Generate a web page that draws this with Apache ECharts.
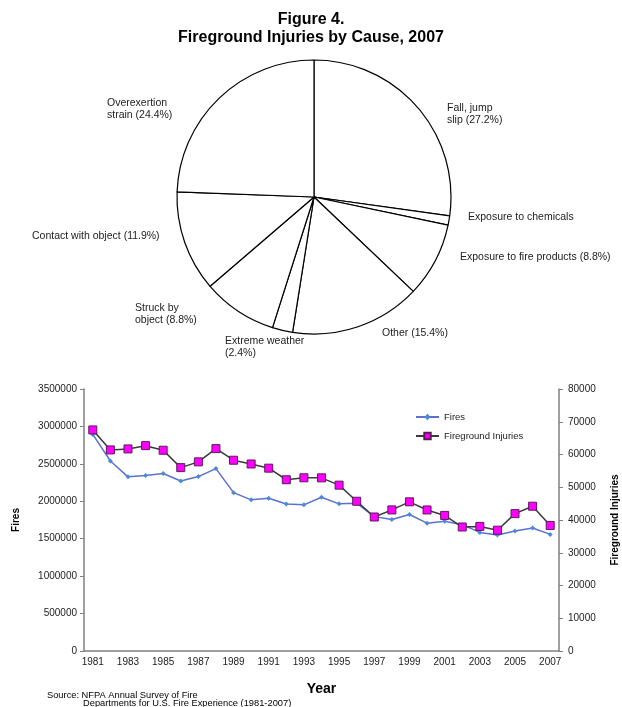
<!DOCTYPE html>
<html>
<head>
<meta charset="utf-8">
<title>Figure 4</title>
<script src="https://cdn.jsdelivr.net/npm/echarts@6/dist/echarts.min.js"></script>
<style>
  html, body { margin: 0; padding: 0; background: #fff; }
  #main { width: 622px; height: 707px; }
</style>
</head>
<body>
<div id="main"></div>
<script>
// pie: injuries by cause, clockwise from 12 o'clock
var causes = ['Fall, jump, slip', 'Exposure to chemicals', 'Exposure to fire products', 'Other',
  'Extreme weather', 'Struck by object', 'Contact with object', 'Overexertion, strain'];
var causeShare = [27.2, 1.1, 8.8, 15.4, 2.4, 8.8, 11.9, 24.4];
var causeLabels = ['Fall, jump\nslip (27.2%)', 'Exposure to chemicals', 'Exposure to fire products (8.8%)',
  'Other (15.4%)', 'Extreme weather\n(2.4%)', 'Struck by\nobject (8.8%)', 'Contact with object (11.9%)',
  'Overexertion\nstrain (24.4%)'];

// line chart: fires and fireground injuries by year
var years = ['1981', '1982', '1983', '1984', '1985', '1986', '1987', '1988', '1989', '1990',
  '1991', '1992', '1993', '1994', '1995', '1996', '1997', '1998', '1999', '2000',
  '2001', '2002', '2003', '2004', '2005', '2006', '2007'];
var fires = [2893500, 2538000, 2326500, 2343000, 2371000, 2271500, 2330000, 2436500, 2115000, 2019000,
  2041500, 1964500, 1952500, 2054500, 1965500, 1975000, 1795000, 1755500, 1823000, 1708000,
  1734500, 1687500, 1584500, 1550500, 1602000, 1642500, 1557500];
var injuries = [67500, 61400, 61700, 62700, 61300, 55990, 57755, 61790, 58250, 57100,
  55830, 52290, 52885, 52875, 50640, 45725, 40920, 43080, 45550, 43065,
  41395, 37860, 38045, 36880, 41950, 44210, 38340];

var font = 'Liberation Sans, Arial, sans-serif';

// where each pie label sits (left edge, top)
var labelPos = [[447, 102], [468, 211], [460, 251], [382, 327], [225, 335], [135, 302], [32, 230], [107, 97]];

// plain numbers on the value axes, no thousands separators
function plain(v) { return String(v); }

var chart = echarts.init(document.getElementById('main'));

var pieData = causes.map(function (name, i) {
  return { name: name, value: causeShare[i] };
});

var option = {
  animation: false,
  textStyle: { fontFamily: font },
  title: [{
    text: 'Figure 4.\nFireground Injuries by Cause, 2007',
    left: 'center',
    top: 6,
    textStyle: { fontFamily: font, fontSize: 16, fontWeight: 'bold', color: '#000', lineHeight: 18 }
  }, {
    text: 'Source: NFPA Annual Survey of Fire',
    left: 42,
    top: 686,
    textStyle: { fontFamily: font, fontSize: 9.3, fontWeight: 'normal', color: '#000' }
  }, {
    text: 'Departments for U.S. Fire Experience (1981-2007)',
    left: 78,
    top: 694,
    textStyle: { fontFamily: font, fontSize: 9.3, fontWeight: 'normal', color: '#000' }
  }],
  legend: {
    data: ['Fires', 'Fireground Injuries'],
    orient: 'vertical',
    left: 410,
    top: 407,
    itemGap: 9,
    itemWidth: 23,
    itemHeight: 8,
    textStyle: { fontFamily: font, fontSize: 9.5, color: '#222' }
  },
  grid: {
    left: 84,
    right: 63,
    top: 389,
    bottom: 56,
    outerBoundsMode: 'none'
  },
  xAxis: {
    type: 'category',
    data: years,
    name: 'Year',
    nameLocation: 'middle',
    nameGap: 31,
    nameTextStyle: { fontFamily: font, fontSize: 14, fontWeight: 'bold', color: '#000' },
    boundaryGap: true,
    axisLine: { lineStyle: { color: '#808080', width: 1.5 } },
    axisTick: { interval: 0, length: 4, lineStyle: { color: '#808080' } },
    axisLabel: { interval: 1, margin: 6, fontSize: 10, color: '#222' },
    splitLine: { show: false }
  },
  yAxis: [{
    type: 'value',
    min: 0,
    max: 3500000,
    interval: 500000,
    name: 'Fires',
    nameLocation: 'middle',
    nameGap: 63,
    nameMoveOverlap: false,
    nameTextStyle: { fontFamily: font, fontSize: 10, fontWeight: 'bold', color: '#000' },
    axisLine: { show: true, lineStyle: { color: '#808080', width: 1.5 } },
    axisTick: { show: true, length: 4, lineStyle: { color: '#808080' } },
    axisLabel: { margin: 7, fontSize: 10, color: '#222', formatter: plain },
    splitLine: { show: false }
  }, {
    type: 'value',
    min: 0,
    max: 80000,
    interval: 10000,
    name: 'Fireground Injuries',
    nameLocation: 'middle',
    nameGap: 51,
    nameRotate: 90,
    nameMoveOverlap: false,
    nameTextStyle: { fontFamily: font, fontSize: 10, fontWeight: 'bold', color: '#000' },
    axisLine: { show: true, lineStyle: { color: '#808080', width: 1.5 } },
    axisTick: { show: true, length: 4, lineStyle: { color: '#808080' } },
    axisLabel: { margin: 9, fontSize: 10, color: '#222', formatter: plain },
    splitLine: { show: false }
  }],
  series: [{
    name: 'Injuries by cause',
    type: 'pie',
    center: [314, 197],
    radius: 137,
    startAngle: 90,
    clockwise: true,
    silent: true,
    data: pieData,
    itemStyle: { color: '#fff', borderColor: '#000', borderWidth: 1.2 },
    emphasis: { disabled: true },
    label: {
      show: true,
      position: 'outside',
      formatter: function (p) { return causeLabels[p.dataIndex]; },
      fontFamily: font,
      fontSize: 10.5,
      lineHeight: 12,
      color: '#222',
      overflow: 'none',
      align: 'left'
    },
    labelLine: { show: false },
    labelLayout: function (p) {
      var pos = labelPos[p.dataIndex];
      return { x: pos[0], y: pos[1], align: 'left', verticalAlign: 'top' };
    }
  }, {
    name: 'Fires',
    type: 'line',
    data: fires,
    yAxisIndex: 0,
    symbol: 'diamond',
    symbolSize: 5,
    lineStyle: { color: '#5b70d0', width: 1.5 },
    itemStyle: { color: '#4a8ad8' }
  }, {
    name: 'Fireground Injuries',
    type: 'line',
    data: injuries,
    yAxisIndex: 1,
    symbol: 'rect',
    symbolSize: 8,
    lineStyle: { color: '#3a3a3a', width: 1.5 },
    itemStyle: { color: '#ff00ff', borderColor: '#5a1a5a', borderWidth: 1 }
  }]
};

chart.setOption(option);
</script>
</body>
</html>
